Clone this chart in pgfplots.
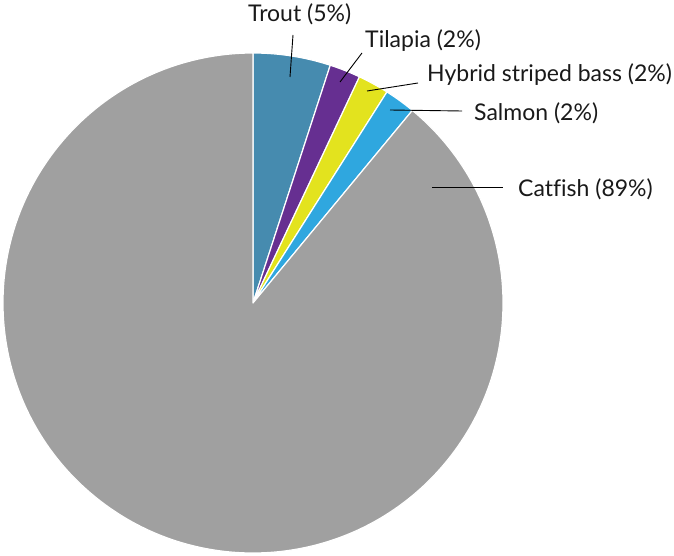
\documentclass[border=0pt]{standalone}
\usepackage{pgfplots}
\pgfplotsset{compat=1.18}
\usepackage{pgfplotstable}
\usepackage{fontspec}
\setmainfont{Lato}[Ligatures=NoCommon]
\definecolor{cTrout}{HTML}{468BAF}
\definecolor{cTilapia}{HTML}{662F91}
\definecolor{cHybrid}{HTML}{E3E31E}
\definecolor{cSalmon}{HTML}{2FA7DF}
\definecolor{cCatfish}{HTML}{A0A0A0}
\pgfplotstableread{
name pct col
Trout 5 cTrout
Tilapia 2 cTilapia
Hybrid 2 cHybrid
Salmon 2 cSalmon
Catfish 89 cCatfish
}\piedata
\def\cum{90}
\foreach \i in {0,...,4}{%
  \pgfplotstablegetelem{\i}{pct}\of\piedata
  \let\p\pgfplotsretval
  \pgfmathsetmacro\e{\cum-3.6*\p}%
  \expandafter\xdef\csname sa\i\endcsname{\cum}%
  \expandafter\xdef\csname ea\i\endcsname{\e}%
  \pgfplotstablegetelem{\i}{col}\of\piedata
  \expandafter\xdef\csname co\i\endcsname{\pgfplotsretval}%
  \xdef\cum{\e}%
}
\begin{document}
\begin{tikzpicture}
\begin{axis}[
  x=1pt, y=1pt,
  xmin=-253, xmax=421, ymin=-252, ymax=303,
  hide axis, clip=false,
]
\pgfplotsinvokeforeach{0,...,4}{%
  \fill[fill=\csname co#1\endcsname, draw=white, line width=1.2pt, line join=round]
    (axis cs:0,0) -- ++(\csname sa#1\endcsname:250pt)
    arc[start angle=\csname sa#1\endcsname, end angle=\csname ea#1\endcsname, radius=250pt] -- cycle;
}
\begin{scope}[every node/.style={inner sep=0pt, font=\fontsize{23}{27}\selectfont, text=black!90}]
\node[anchor=base west] at (axis cs:-5,281) {Trout (5\%)};
\node[anchor=base west] at (axis cs:112,255) {Tilapia (2\%)};
\node[anchor=base west] at (axis cs:174,221) {Hybrid striped bass (2\%)};
\node[anchor=base west] at (axis cs:221,182) {Salmon (2\%)};
\node[anchor=base west] at (axis cs:265,106) {Catfish (89\%)};
\end{scope}
\begin{scope}[line width=0.9pt]
\draw (axis cs:40,268) -- (axis cs:37,226);
\draw (axis cs:109,250) -- (axis cs:87,221);
\draw (axis cs:165,220) -- (axis cs:114,212);
\draw (axis cs:209,192) -- (axis cs:137,193);
\draw (axis cs:179,116) -- (axis cs:250,116);
\end{scope}
\coordinate (bl) at (axis cs:-253,-252);
\coordinate (tr) at (axis cs:421,303);
\end{axis}
\pgfresetboundingbox
\path[use as bounding box] (bl) rectangle (tr);
\end{tikzpicture}
\end{document}
